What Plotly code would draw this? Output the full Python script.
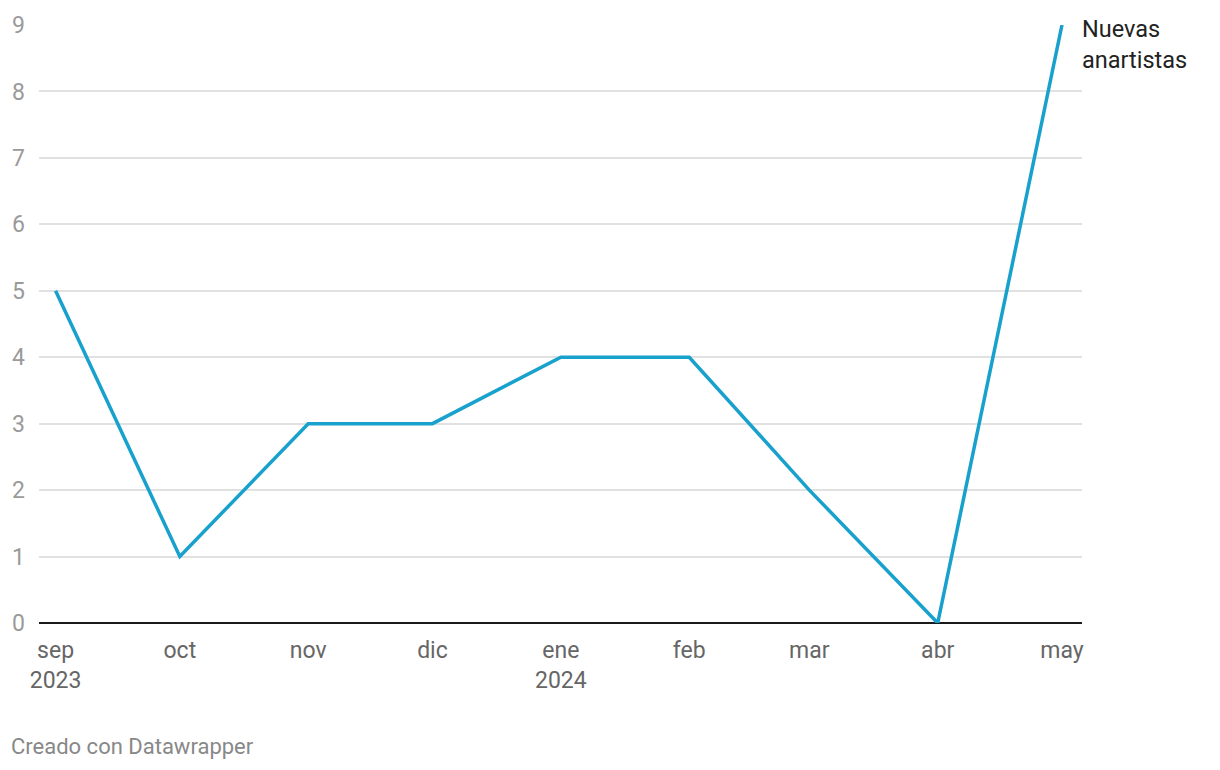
import plotly.graph_objects as go

months = ["2023-09-01", "2023-10-01", "2023-11-01", "2023-12-01", "2024-01-01",
          "2024-02-01", "2024-03-01", "2024-04-01", "2024-05-01"]
values = [5, 1, 3, 3, 4, 4, 2, 0, 9]
tick_text = ["sep<br>2023", "oct", "nov", "dic", "ene<br>2024", "feb", "mar", "abr", "may"]
series_name = "Nuevas<br>anartistas"

fig = go.Figure()
fig.add_trace(go.Scatter(
    x=months, y=values, mode="lines",
    line=dict(color="#18a1cd", width=3.5),
    cliponaxis=False, hoverinfo="x+y", showlegend=False,
))

fig.add_annotation(
    x=1, xref="paper", y=values[-1], yref="y",
    text=series_name, showarrow=False, xanchor="left", yanchor="middle",
    align="left", xshift=-2, yshift=-19,
    font=dict(family="Roboto", size=23.5, color="#222222"),
)
fig.add_annotation(
    x=0, xref="paper", y=0, yref="paper", xshift=-30, yshift=-123,
    text="Creado con Datawrapper", showarrow=False, xanchor="left", yanchor="middle",
    font=dict(family="Roboto", size=22, color="#888888"),
)

fig.update_layout(
    width=1220, height=770,
    margin=dict(l=36, r=138, t=23, b=147),
    plot_bgcolor="white", paper_bgcolor="white",
    font=dict(family="Roboto"),
    xaxis=dict(
        type="date", range=["2023-08-28 00:00", "2024-05-05 20:00"],
        tickvals=months, ticktext=tick_text,
        showgrid=False, zeroline=False, showline=False,
        ticks="", ticklabelstandoff=11,
        tickfont=dict(family="Roboto", size=23, color="#666666"),
    ),
    yaxis=dict(
        range=[0, 9], dtick=1, tick0=0,
        showgrid=True, gridcolor="#e1e1e1", gridwidth=1.5,
        zeroline=True, zerolinecolor="#1a1a1a", zerolinewidth=2,
        showline=False, ticks="", ticklabelstandoff=13,
        tickfont=dict(family="Roboto", size=23, color="#9a9a9a"),
    ),
)

fig.write_html("out.html")
